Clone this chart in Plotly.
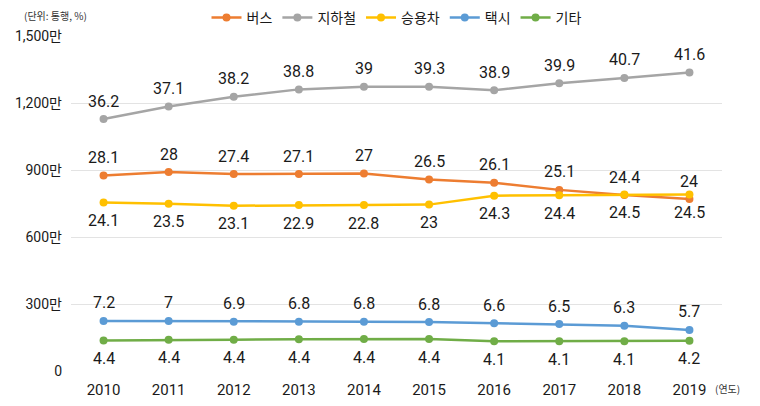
import plotly.graph_objects as go

years = ["2010", "2011", "2012", "2013", "2014", "2015", "2016", "2017", "2018", "2019"]

# trip counts (만 통행)
bus = [875, 891, 882, 882, 884, 858, 843, 811, 788, 770]
subway = [1128, 1184, 1228, 1261, 1273, 1273, 1257, 1288, 1312, 1337]
car = [754, 749, 740, 743, 743, 745, 785, 787, 790, 790]
taxi = [224, 224, 221, 221, 221, 219, 214, 210, 203, 184]
other = [137, 140, 140, 142, 143, 143, 133, 133, 133, 136]

# share labels (%)
bus_pct = ["28.1", "28", "27.4", "27.1", "27", "26.5", "26.1", "25.1", "24.4", "24"]
subway_pct = ["36.2", "37.1", "38.2", "38.8", "39", "39.3", "38.9", "39.9", "40.7", "41.6"]
car_pct = ["24.1", "23.5", "23.1", "22.9", "22.8", "23", "24.3", "24.4", "24.5", "24.5"]
taxi_pct = ["7.2", "7", "6.9", "6.8", "6.8", "6.8", "6.6", "6.5", "6.3", "5.7"]
other_pct = ["4.4", "4.4", "4.4", "4.4", "4.4", "4.4", "4.1", "4.1", "4.1", "4.2"]

y_ticks = [0, 300, 600, 900, 1200, 1500]
y_tick_text = ["0", "300만", "600만", "900만", "1,200만", "1,500만"]

FONT = "Roboto, Noto Sans CJK KR, sans-serif"
KFONT = "Noto Sans CJK KR, Roboto, sans-serif"

series = [
    ("버스", bus, bus_pct, "#ED7D31", 1),
    ("지하철", subway, subway_pct, "#A5A5A5", 1),
    ("승용차", car, car_pct, "#FFC000", -1),
    ("택시", taxi, taxi_pct, "#5B9BD5", 1),
    ("기타", other, other_pct, "#70AD47", -1),
]

fig = go.Figure()
annotations = []
for name, vals, pct, color, side in series:
    fig.add_trace(go.Scatter(
        x=years, y=vals, name=name, mode="lines+markers",
        line=dict(color=color, width=2.5),
        marker=dict(color=color, size=8),
    ))
    for i, (yv, t) in enumerate(zip(vals, pct)):
        annotations.append(dict(
            x=i, y=yv, xref="x", yref="y", text=t, showarrow=False,
            xanchor="center", yanchor="middle",
            yshift=18 * side, font=dict(family=FONT, size=16, color="#1a1a1a"),
        ))

annotations.append(dict(
    x=-0.075, y=1.060, xref="paper", yref="paper", text="(단위: 통행, %)",
    showarrow=False, xanchor="left", yanchor="middle",
    font=dict(family=KFONT, size=10, color="#333333"),
))
annotations.append(dict(
    x=1.009, y=-0.051, xref="paper", yref="paper", text="(연도)",
    showarrow=False, xanchor="center", yanchor="middle",
    font=dict(family=KFONT, size=10, color="#333333"),
))

# page body adds an 8px margin, so the figure is sized to fit inside the window
fig.update_layout(
    width=752, height=398,
    margin=dict(l=63, r=38, t=28, b=35, autoexpand=False),
    plot_bgcolor="white", paper_bgcolor="white",
    font=dict(family=FONT, size=14, color="#1a1a1a"),
    showlegend=True,
    legend=dict(
        orientation="h", x=0.5, xanchor="center", y=1.054, yanchor="middle",
        font=dict(family=KFONT, size=14, color="#1a1a1a"),
        itemwidth=30, tracegroupgap=0, bgcolor="rgba(0,0,0,0)",
    ),
    xaxis=dict(
        type="category", range=[-0.5, 9.5], showgrid=False, zeroline=False,
        showline=False, ticks="", tickfont=dict(family=FONT, size=15, color="#1a1a1a"),
        ticklabelstandoff=8,
    ),
    yaxis=dict(
        range=[0, 1500], tickvals=y_ticks, ticktext=y_tick_text,
        showgrid=True, gridcolor="#E3E3E3", gridwidth=1, zeroline=False,
        showline=False, ticks="", tickfont=dict(family=FONT, size=14, color="#1a1a1a"),
        ticklabelstandoff=8,
    ),
    annotations=annotations,
)

fig.write_html("out.html")
